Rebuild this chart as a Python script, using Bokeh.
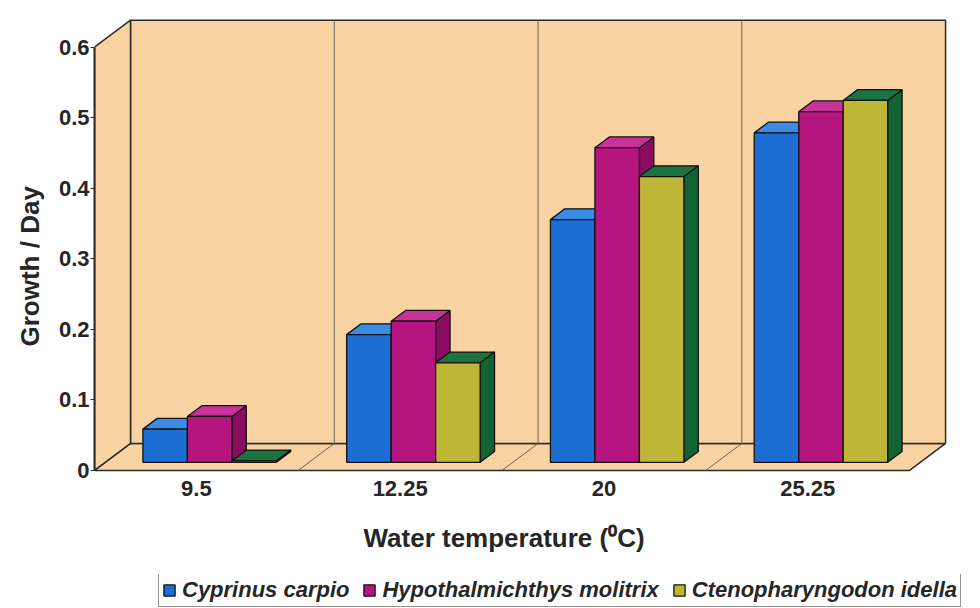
from bokeh.plotting import figure
from bokeh.layouts import column
from bokeh.models import FixedTicker, Legend, LegendItem, Range1d, Title
from bokeh.embed import file_html
from bokeh.resources import INLINE

# ---------------- data ----------------
temperatures = ["9.5", "12.25", "20", "25.25"]
series_names = ["Cyprinus carpio", "Hypothalmichthys molitrix", "Ctenopharyngodon idella"]
cyprinus = [0.047, 0.181, 0.344, 0.467]
hypothalmichthys = [0.065, 0.200, 0.446, 0.497]
ctenopharyngodon = [0.002, 0.141, 0.405, 0.513]
y_ticks = [0, 0.1, 0.2, 0.3, 0.4, 0.5, 0.6]
x_title = "Water temperature (\u2070C)"
y_title = "Growth / Day"

# ---------------- style ----------------
FRONT = ["#1C6ED2", "#B4157F", "#BEB637"]
TOP = ["#3A8CE6", "#C8339A", "#1A7440"]
SIDE = ["#14509A", "#8C0C62", "#146433"]
WALL = "#FAD3A3"
EDGE = "#2a2a2a"
TXT = "#262626"
FONT = "Liberation Sans"

n = len(temperatures)
DX, DY = 0.1767, 0.0382          # depth of the floor (x units, value units)
F0, F1 = 0.30, 0.70              # bar front/back as depth fraction
GROUP = 0.655                    # group width (category units)
BW = GROUP / 3
YMAX = 0.6

p = figure(width=980, height=574, output_backend="svg", toolbar_location=None,
           x_range=Range1d(0, 4.299), y_range=Range1d(-0.003, 0.642),
           min_border_left=94, min_border_right=10, min_border_top=17, min_border_bottom=101,
           background_fill_color="white", border_fill_color="white", outline_line_color=None)
p.grid.visible = False

# walls and floor
p.patch([0, n, n + DX, DX], [0, 0, DY, DY], fill_color=WALL, line_color=EDGE, line_width=1.5)
p.patch([DX, n + DX, n + DX, DX], [DY, DY, YMAX + DY, YMAX + DY],
        fill_color=WALL, line_color=EDGE, line_width=1.5)
p.patch([0, DX, DX, 0], [0, DY, YMAX + DY, YMAX], fill_color=WALL, line_color=EDGE, line_width=1.5)
div = list(range(1, n))
p.segment(x0=[k + DX for k in div], y0=[DY] * len(div), x1=[k + DX for k in div],
          y1=[YMAX + DY] * len(div), line_color="#6b6357", line_width=1)
p.segment(x0=[k + DX for k in div], y0=[DY] * len(div), x1=div, y1=[0] * len(div),
          line_color="#6b6357", line_width=1)

# bars (oblique projection)
fx, fy = DX * F0, DY * F0
bx, by = DX * F1, DY * F1
ddx, ddy = bx - fx, by - fy
front_faces = []
for j, vals in enumerate([cyprinus, hypothalmichthys, ctenopharyngodon]):
    fxs, fys, txs, tys, sxs, sys_ = [], [], [], [], [], []
    for i, v in enumerate(vals):
        x0 = i + 0.5 + fx + 0.012 - GROUP / 2 + j * BW
        x1 = x0 + BW
        y0 = fy
        y1 = fy + v
        fxs.append([x0, x1, x1, x0]); fys.append([y0, y0, y1, y1])
        txs.append([x0, x1, x1 + ddx, x0 + ddx]); tys.append([y1, y1, y1 + ddy, y1 + ddy])
        sxs.append([x1, x1 + ddx, x1 + ddx, x1]); sys_.append([y0, y0 + ddy, y1 + ddy, y1])
    p.patches(sxs, sys_, fill_color=SIDE[j], line_color="#111111", line_width=1.3)
    p.patches(txs, tys, fill_color=TOP[j], line_color="#111111", line_width=1.3)
    p.patches(fxs, fys, fill_color=FRONT[j], line_color="#111111", line_width=1.3)
    front_faces.append((fxs, fys))

# y axis
ya = p.yaxis[0]
ya.ticker = FixedTicker(ticks=y_ticks)
ya.major_label_overrides = {0: "0"}
ya.bounds = (0, YMAX)
ya.axis_line_color = EDGE
ya.axis_line_width = 2
ya.major_tick_in = 0
ya.major_tick_out = 4
ya.major_tick_line_color = EDGE
ya.minor_tick_line_color = None
ya.major_label_standoff = 1
ya.major_label_text_font = FONT
ya.major_label_text_font_style = "bold"
ya.major_label_text_font_size = "22px"
ya.major_label_text_color = TXT

# x axis
xa = p.xaxis[0]
xa.ticker = FixedTicker(ticks=[i + 0.5 for i in range(n)])
xa.major_label_overrides = {i + 0.5: t for i, t in enumerate(temperatures)}
xa.axis_line_color = None
xa.major_tick_line_color = None
xa.minor_tick_line_color = None
xa.major_label_standoff = 2
xa.major_label_text_font = FONT
xa.major_label_text_font_style = "bold"
xa.major_label_text_font_size = "22px"
xa.major_label_text_color = TXT

# axis titles (as titles so they can be offset like the reference)
p.add_layout(Title(text=x_title, align="left", offset=269, standoff=44,
                   text_font=FONT, text_font_style="bold", text_font_size="26px",
                   text_color=TXT), "below")
p.add_layout(Title(text=y_title, align="left", offset=126, standoff=21,
                   text_font=FONT, text_font_style="bold", text_font_size="26px",
                   text_color=TXT), "left")

# legend strip (its renderers sit outside this strip's ranges; only the legend shows)
pl = figure(width=980, height=34, output_backend="svg", toolbar_location=None,
            x_range=Range1d(20, 21), y_range=Range1d(20, 21),
            x_axis_location=None, y_axis_location=None, min_border=0,
            background_fill_color="white", border_fill_color="white", outline_line_color=None)
pl.grid.visible = False
items = []
for j, s in enumerate(series_names):
    fxs, fys = front_faces[j]
    r = pl.patches(xs=fxs, ys=fys, fill_color=FRONT[j], line_color="#111111", line_width=1.3)
    items.append(LegendItem(label=s, renderers=[r]))
legend = Legend(items=items, orientation="horizontal", location=(64, 1),
                label_text_font=FONT, label_text_font_style="bold italic",
                label_text_font_size="22px", label_text_color=TXT,
                glyph_width=14, glyph_height=14, label_standoff=6, spacing=13,
                padding=3, margin=0, border_line_color=EDGE, border_line_width=1.5,
                background_fill_color="white", background_fill_alpha=1)
pl.add_layout(legend, "center")

open("out.html", "w").write(file_html(column(p, pl, spacing=0), INLINE))
